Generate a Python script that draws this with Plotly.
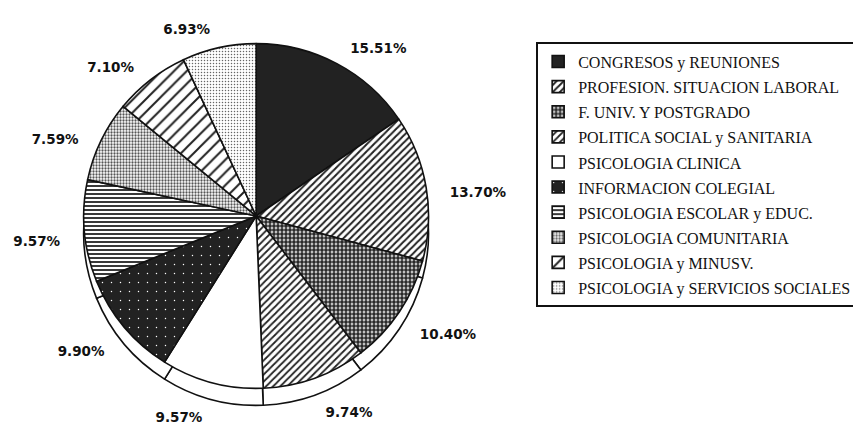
import plotly.graph_objects as go

# ---- data ----
categories = [
    "CONGRESOS y REUNIONES",
    "PROFESION. SITUACION LABORAL",
    "F. UNIV. Y POSTGRADO",
    "POLITICA SOCIAL y SANITARIA",
    "PSICOLOGIA CLINICA",
    "INFORMACION COLEGIAL",
    "PSICOLOGIA ESCOLAR y EDUC.",
    "PSICOLOGIA COMUNITARIA",
    "PSICOLOGIA y MINUSV.",
    "PSICOLOGIA y SERVICIOS SOCIALES",
]
percentages = [15.51, 13.70, 10.40, 9.74, 9.57, 9.90, 9.57, 7.59, 7.10, 6.93]

# ---- styles (black & white patterns) ----
base_colors = ["#222222", "#ffffff", "#2a2a2a", "#ffffff", "#ffffff",
               "#222222", "#ffffff", "#ffffff", "#ffffff", "#ffffff"]
pat_shapes = ["", "/", ".", "/", "", ".", "-", ".", "/", "."]
pat_fg = ["#222222", "#222222", "#2a2a2a", "#222222", "#222222",
          "#ffffff", "#222222", "#555555", "#222222", "#666666"]
pat_bg = ["#222222", "#ffffff", "#ffffff", "#ffffff", "#ffffff",
          "#222222", "#ffffff", "#ffffff", "#ffffff", "#ffffff"]
pat_size = [6, 5, 4, 5, 6, 9, 4, 3, 9, 3]
pat_solid = [0.3, 0.4, 0.72, 0.35, 0.3, 0.02, 0.45, 0.45, 0.22, 0.2]

legend_labels = [f"<span style='font-size:16px'>{c}</span>" for c in categories]

W, H = 861, 435
OFF = 8            # page body margin in the browser
cx, cy, r = 254 - OFF, 216 - OFF, 173
rim = 17
label_r, label_dy = 193, 8

def dom(cx, cy, r):
    return dict(x=[(cx - r) / W, (cx + r) / W],
                y=[1 - (cy + r) / H, 1 - (cy - r) / H])

fig = go.Figure()

# invisible pie carrying the outside percentage labels (slightly larger)
fig.add_trace(go.Pie(
    labels=legend_labels, values=percentages, sort=False, direction="clockwise",
    rotation=0, domain=dom(cx, cy + label_dy, label_r),
    texttemplate="%{value:.2f}%", textposition="outside",
    outsidetextfont=dict(family="DejaVu Sans", size=13.5, weight="bold",
                         color="#111111"),
    hoverinfo="skip", showlegend=False,
    marker=dict(colors=["rgba(0,0,0,0)"] * len(categories),
                line=dict(width=0)),
))

# pie "thickness" rim (drawn behind, shifted down)
fig.add_trace(go.Pie(
    labels=legend_labels, values=percentages, sort=False, direction="clockwise",
    rotation=0, domain=dom(cx, cy + rim, r), textinfo="none", hoverinfo="skip",
    showlegend=False,
    marker=dict(colors=["#ffffff"] * len(categories),
                line=dict(color="#111111", width=1.6)),
))

# main pie
fig.add_trace(go.Pie(
    labels=legend_labels, values=percentages, sort=False, direction="clockwise",
    rotation=0, domain=dom(cx, cy, r), textinfo="none",
    hovertemplate="%{label}: %{value:.2f}%<extra></extra>",
    marker=dict(
        colors=base_colors,
        line=dict(color="#111111", width=1.6),
        pattern=dict(shape=pat_shapes, fgcolor=pat_fg, bgcolor=pat_bg,
                     size=pat_size, solidity=pat_solid, fillmode="replace"),
    ),
))

fig.update_layout(
    width=W, height=H,
    margin=dict(l=0, r=0, t=0, b=0),
    paper_bgcolor="white", plot_bgcolor="white",
    font=dict(family="Liberation Serif", color="#111111"),
    legend=dict(
        x=(535 - OFF) / W, y=1 - (42 - OFF) / H, xanchor="left", yanchor="top",
        bgcolor="white", bordercolor="#111111", borderwidth=2,
        font=dict(family="Liberation Serif", size=17, color="#111111"),
        traceorder="normal",
    ),
)

fig.write_html("out.html")
